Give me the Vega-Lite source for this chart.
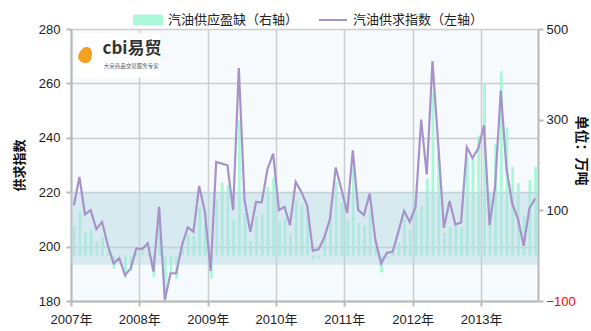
{
  "$schema": "https://vega.github.io/schema/vega-lite/v6.json",
  "width": 467,
  "height": 272,
  "autosize": {"type": "none"},
  "padding": {"left": 71, "top": 29, "right": 53, "bottom": 30},
  "background": "white",
  "config": {
    "view": {"fill": "#f6fafc", "stroke": null},
    "font": "Liberation Sans, Noto Sans CJK SC",
    "axis": {
      "labelFont": "Liberation Sans, Noto Sans CJK SC",
      "labelFontSize": 13,
      "labelColor": "#222222",
      "domainColor": "#b8b8b8",
      "domainWidth": 2,
      "tickColor": "#b8b8b8",
      "tickWidth": 2,
      "gridColor": "#cdcdcd",
      "gridWidth": 1.5,
      "titleFont": "Noto Sans CJK SC",
      "titleColor": "#111111"
    },
    "legend": {
      "labelFont": "Noto Sans CJK SC",
      "labelFontSize": 13,
      "labelColor": "#222222"
    }
  },
  "datasets": {
    "main": [
      {"m": "2007-01-15", "idx": 215.2, "gap": 66},
      {"m": "2007-02-15", "idx": 225.6, "gap": 98},
      {"m": "2007-03-15", "idx": 211.8, "gap": 51},
      {"m": "2007-04-15", "idx": 213.4, "gap": 58},
      {"m": "2007-05-15", "idx": 206.4, "gap": 32},
      {"m": "2007-06-15", "idx": 209.1, "gap": 40},
      {"m": "2007-07-15", "idx": 200.6, "gap": 12},
      {"m": "2007-08-15", "idx": 193.8, "gap": -29},
      {"m": "2007-09-15", "idx": 195.7, "gap": 3},
      {"m": "2007-10-15", "idx": 189.5, "gap": -49},
      {"m": "2007-11-15", "idx": 192.0, "gap": -33},
      {"m": "2007-12-15", "idx": 199.3, "gap": 5},
      {"m": "2008-01-15", "idx": 199.1, "gap": 10},
      {"m": "2008-02-15", "idx": 201.2, "gap": 5},
      {"m": "2008-03-15", "idx": 190.8, "gap": -47},
      {"m": "2008-04-15", "idx": 214.6, "gap": 69},
      {"m": "2008-05-15", "idx": 180.4, "gap": -97},
      {"m": "2008-06-15", "idx": 190.2, "gap": -36},
      {"m": "2008-07-15", "idx": 190.2, "gap": -51},
      {"m": "2008-08-15", "idx": 200.6, "gap": 32},
      {"m": "2008-09-15", "idx": 207.1, "gap": 47},
      {"m": "2008-10-15", "idx": 205.5, "gap": 43},
      {"m": "2008-11-15", "idx": 222.3, "gap": 107},
      {"m": "2008-12-15", "idx": 212.8, "gap": 72},
      {"m": "2009-01-15", "idx": 191.1, "gap": -50},
      {"m": "2009-02-15", "idx": 231.1, "gap": 123},
      {"m": "2009-03-15", "idx": 230.5, "gap": 161},
      {"m": "2009-04-15", "idx": 229.9, "gap": 156},
      {"m": "2009-05-15", "idx": 213.4, "gap": 80},
      {"m": "2009-06-15", "idx": 265.6, "gap": 298},
      {"m": "2009-07-15", "idx": 217.1, "gap": 94},
      {"m": "2009-08-15", "idx": 205.4, "gap": 32},
      {"m": "2009-09-15", "idx": 216.4, "gap": 87},
      {"m": "2009-10-15", "idx": 216.3, "gap": 90},
      {"m": "2009-11-15", "idx": 228.4, "gap": 152},
      {"m": "2009-12-15", "idx": 234.2, "gap": 173},
      {"m": "2010-01-15", "idx": 213.4, "gap": 76},
      {"m": "2010-02-15", "idx": 214.6, "gap": 83},
      {"m": "2010-03-15", "idx": 207.9, "gap": 47},
      {"m": "2010-04-15", "idx": 223.8, "gap": 123},
      {"m": "2010-05-15", "idx": 220.1, "gap": 112},
      {"m": "2010-06-15", "idx": 215.2, "gap": 87},
      {"m": "2010-07-15", "idx": 198.5, "gap": -8},
      {"m": "2010-08-15", "idx": 199.0, "gap": -6},
      {"m": "2010-09-15", "idx": 203.4, "gap": 43},
      {"m": "2010-10-15", "idx": 210.3, "gap": 98},
      {"m": "2010-11-15", "idx": 229.1, "gap": 163},
      {"m": "2010-12-15", "idx": 221.0, "gap": 117},
      {"m": "2011-01-15", "idx": 212.4, "gap": 80},
      {"m": "2011-02-15", "idx": 235.4, "gap": 192},
      {"m": "2011-03-15", "idx": 213.4, "gap": 72},
      {"m": "2011-04-15", "idx": 211.6, "gap": 66},
      {"m": "2011-05-15", "idx": 219.5, "gap": 94},
      {"m": "2011-06-15", "idx": 202.4, "gap": 21},
      {"m": "2011-07-15", "idx": 193.8, "gap": -37},
      {"m": "2011-08-15", "idx": 197.7, "gap": -5},
      {"m": "2011-09-15", "idx": 198.1, "gap": 7},
      {"m": "2011-10-15", "idx": 205.4, "gap": 29},
      {"m": "2011-11-15", "idx": 213.1, "gap": 80},
      {"m": "2011-12-15", "idx": 209.1, "gap": 58},
      {"m": "2012-01-15", "idx": 214.6, "gap": 100},
      {"m": "2012-02-15", "idx": 246.7, "gap": 110},
      {"m": "2012-03-15", "idx": 226.5, "gap": 170},
      {"m": "2012-04-15", "idx": 268.2, "gap": 360},
      {"m": "2012-05-15", "idx": 237.9, "gap": 225},
      {"m": "2012-06-15", "idx": 206.9, "gap": 51},
      {"m": "2012-07-15", "idx": 216.8, "gap": 62},
      {"m": "2012-08-15", "idx": 208.1, "gap": 65},
      {"m": "2012-09-15", "idx": 208.9, "gap": 62},
      {"m": "2012-10-15", "idx": 236.6, "gap": 218},
      {"m": "2012-11-15", "idx": 232.6, "gap": 216},
      {"m": "2012-12-15", "idx": 236.0, "gap": 265},
      {"m": "2013-01-15", "idx": 244.6, "gap": 381},
      {"m": "2013-02-15", "idx": 207.9, "gap": 140},
      {"m": "2013-03-15", "idx": 221.9, "gap": 246},
      {"m": "2013-04-15", "idx": 257.4, "gap": 407},
      {"m": "2013-05-15", "idx": 228.7, "gap": 283},
      {"m": "2013-06-15", "idx": 215.9, "gap": 196},
      {"m": "2013-07-15", "idx": 210.3, "gap": 160},
      {"m": "2013-08-15", "idx": 200.3, "gap": 87},
      {"m": "2013-09-15", "idx": 214.0, "gap": 167},
      {"m": "2013-10-15", "idx": 217.7, "gap": 196}
    ]
  },
  "layer": [
    {
      "data": {"name": "main"},
      "mark": {"type": "bar", "width": {"band": 0.68}, "opacity": 0.85},
      "encoding": {
        "x": {
          "field": "m", "type": "temporal", "timeUnit": "yearmonth",
          "scale": {"domain": [{"year": 2007, "month": 1, "date": 1}, {"year": 2013, "month": 11, "date": 1}], "nice": false},
          "axis": {"title": null, "format": "%Y年", "formatType": "time", "tickCount": {"interval": "year", "step": 1}, "grid": true, "tickSize": 5, "labelPadding": 7, "labelFont": "Liberation Sans, Noto Sans CJK SC", "labelFlush": false}
        },
        "y": {
          "field": "gap", "type": "quantitative",
          "scale": {"domain": [-100, 500], "nice": false, "zero": false},
          "axis": {"orient": "right", "values": [-100, 100, 300, 500], "grid": false, "title": "单位：万吨", "titleAngle": 90, "titleFontSize": 14, "titleFontWeight": "bold", "titleX": 42, "titleY": 121, "titleAlign": "center", "titleBaseline": "middle", "labelColor": {"expr": "datum.value < 0 ? '#ff0000' : '#222222'"}, "tickSize": 5, "labelPadding": 3}
        },
        "fill": {
          "datum": "汽油供应盈缺（右轴）",
          "scale": {"range": ["#9cf6d4"]},
          "legend": {"orient": "none", "legendX": 62, "legendY": -24, "title": null, "symbolType": "M-1,-0.36H1V0.36H-1Z", "symbolSize": 900, "symbolStrokeWidth": 0, "labelOffset": 5, "labelFontSize": 13}
        }
      }
    },
    {
      "layer": [
        {
          "data": {"values": [{"lo": 193.3, "hi": 220}]},
          "mark": {"type": "rect", "color": "#b5dae4", "opacity": 0.5},
          "encoding": {
            "y": {
              "field": "lo", "type": "quantitative",
              "scale": {"domain": [180, 280], "nice": false, "zero": false},
              "axis": {"orient": "left", "values": [180, 200, 220, 240, 260, 280], "grid": true, "title": "供求指数", "titleFontSize": 13, "titleFontWeight": "bold", "tickSize": 5, "labelPadding": 6, "titlePadding": 12}
            },
            "y2": {"field": "hi"}
          }
        },
        {
          "data": {"name": "main"},
          "mark": {"type": "line", "color": "#a693c9", "strokeWidth": 2.2},
          "encoding": {
            "x": {"field": "m", "type": "temporal", "timeUnit": "yearmonth", "bandPosition": 0.5},
            "y": {"field": "idx", "type": "quantitative", "title": "供求指数"},
            "stroke": {
              "datum": "汽油供求指数（左轴）",
              "scale": {"range": ["#a693c9"]},
              "legend": {"orient": "none", "legendX": 247, "legendY": -24, "title": null, "symbolType": "stroke", "symbolSize": 784, "symbolStrokeWidth": 2, "labelOffset": 5, "labelFontSize": 13}
            }
          }
        },
        {
          "data": {"values": [{"brand": "cbi易贸"}]},
          "mark": {"type": "rect", "color": "white"},
          "encoding": {
            "x": {"datum": {"year": 2007, "month": 1, "date": 24}, "type": "temporal"},
            "x2": {"datum": {"year": 2008, "month": 4, "date": 20}},
            "y": {"datum": 278.3, "type": "quantitative", "title": "供求指数"},
            "y2": {"datum": 262.2}
          }
        },
        {
          "data": {"values": [{"brand": "cbi易贸"}]},
          "mark": {"type": "point", "shape": "M0,-1.2C0.75,-1.2 1,-0.2 1,0.3C1,0.9 0.6,1.2 0,1.2C-0.6,1.2 -1,0.9 -1,0.3C-1,-0.2 -0.75,-1.2 0,-1.2Z", "filled": true, "color": "#f4a020", "size": 180, "opacity": 1, "angle": 20},
          "encoding": {
            "x": {"datum": {"year": 2007, "month": 3, "date": 20}, "type": "temporal"},
            "y": {"datum": 270.5, "type": "quantitative", "title": "供求指数"}
          }
        },
        {
          "data": {"values": [{"brand": "cbi易贸"}]},
          "mark": {"type": "text", "align": "left", "baseline": "middle", "font": "Noto Sans CJK SC", "fontWeight": "bold", "fontSize": 17, "color": "#333333"},
          "encoding": {
            "x": {"datum": {"year": 2007, "month": 6, "date": 18}, "type": "temporal"},
            "y": {"datum": 272.6, "type": "quantitative", "title": "供求指数"},
            "text": {"field": "brand"}
          }
        },
        {
          "data": {"values": [{"sub": "大宗商品交易服务专家"}]},
          "mark": {"type": "text", "align": "left", "baseline": "middle", "font": "Noto Sans CJK SC", "fontSize": 5.5, "color": "#555555"},
          "encoding": {
            "x": {"datum": {"year": 2007, "month": 6, "date": 25}, "type": "temporal"},
            "y": {"datum": 266.4, "type": "quantitative", "title": "供求指数"},
            "text": {"field": "sub"}
          }
        }
      ]
    }
  ],
  "resolve": {"scale": {"y": "independent"}}
}
